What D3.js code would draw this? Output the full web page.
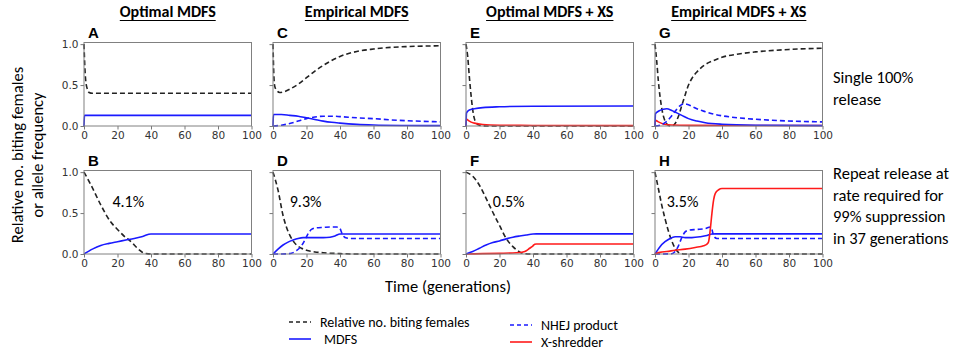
<!DOCTYPE html>
<html>
<head>
<meta charset="utf-8">
<script src="https://cdn.jsdelivr.net/npm/d3@7"></script>
<style>
  body { margin: 0; background: #fff; }
  text { font-family: Carlito, Lato, sans-serif; fill: #000; }
  .tick text { font-family: "DejaVu Sans", sans-serif; fill: #333; }
</style>
</head>
<body>
<div id="chart"></div>
<script>
// column titles and row descriptions
var columnTitles = ["Optimal MDFS", "Empirical MDFS", "Optimal MDFS + XS", "Empirical MDFS + XS"];
var panelLetters = [["A", "C", "E", "G"], ["B", "D", "F", "H"]];
var releaseRates = ["4.1%", "9.3%", "0.5%", "3.5%"];
var xTicks = [0, 20, 40, 60, 80, 100];
var yTicks = [0, 0.5, 1.0];

// every series is [generation, value]
// --- single 100% release ---
var femalesA = [[0,1],[0.5,0.72],[1,0.56],[2,0.45],[3,0.41],[5,0.40],[100,0.40]];
var mdfsA = [[0,0],[0.3,0.13],[100,0.13]];

var femalesC = [[0,1],[0.5,0.62],[1,0.49],[2,0.44],[4,0.41],[7,0.42],[10,0.45],[15,0.51],[20,0.59],[25,0.67],[30,0.74],[35,0.8],[40,0.85],[50,0.91],[60,0.94],[70,0.96],[80,0.97],[100,0.98]];
var mdfsC = [[0,0],[0.3,0.14],[5,0.14],[10,0.13],[15,0.12],[20,0.1],[25,0.08],[30,0.06],[35,0.045],[40,0.035],[50,0.02],[60,0.012],[80,0.006],[100,0.004]];
var nhejC = [[0,0],[5,0.01],[10,0.03],[15,0.06],[20,0.09],[25,0.11],[30,0.12],[35,0.12],[40,0.115],[50,0.1],[60,0.09],[70,0.075],[80,0.065],[100,0.05]];

var femalesE = [[0,1],[1,0.85],[2,0.6],[3,0.38],[4,0.2],[5,0.09],[6,0.04],[8,0.01],[12,0],[100,0]];
var mdfsE = [[0,0],[0.3,0.16],[1,0.18],[2,0.195],[5,0.21],[10,0.225],[20,0.235],[40,0.242],[100,0.245]];
var xsE = [[0,0],[0.3,0.085],[1,0.075],[2,0.06],[5,0.035],[10,0.018],[20,0.01],[40,0.007],[100,0.005]];

var femalesG = [[0,1],[1,0.8],[2,0.55],[4,0.22],[6,0.06],[8,0.01],[10,0],[12,0.03],[14,0.12],[16,0.25],[18,0.38],[20,0.5],[22,0.58],[25,0.66],[30,0.75],[35,0.8],[40,0.84],[50,0.88],[60,0.905],[80,0.935],[100,0.95]];
var mdfsG = [[0,0],[0.3,0.15],[2,0.18],[5,0.205],[7,0.21],[10,0.19],[13,0.16],[16,0.13],[20,0.09],[25,0.06],[30,0.04],[40,0.022],[60,0.01],[100,0.005]];
var nhejG = [[0,0],[3,0.01],[6,0.04],[9,0.1],[12,0.18],[15,0.25],[17,0.27],[19,0.265],[22,0.24],[25,0.21],[30,0.175],[35,0.145],[40,0.125],[55,0.09],[70,0.07],[100,0.05]];
var xsG = [[0,0],[0.3,0.07],[2,0.05],[5,0.025],[10,0.012],[20,0.008],[100,0.006]];

// --- repeat release ---
var femalesB = [[0,1],[4,0.85],[10,0.6],[16,0.39],[20,0.3],[25,0.2],[27,0.17],[30,0.11],[33,0.05],[36,0.01],[40,0],[100,0]];
var mdfsB = [[0,0],[5,0.06],[10,0.105],[15,0.13],[20,0.15],[25,0.17],[30,0.19],[35,0.215],[40,0.245],[100,0.245]];

var femalesD = [[0,1],[3,0.78],[6,0.47],[8,0.33],[10,0.23],[12,0.16],[14,0.11],[17,0.07],[20,0.045],[25,0.025],[30,0.015],[40,0.005],[50,0],[100,0]];
var mdfsD = [[0,0],[3,0.06],[6,0.11],[9,0.145],[12,0.17],[15,0.19],[18,0.2],[24,0.2],[30,0.2],[34,0.205],[37,0.22],[40,0.245],[42,0.245],[100,0.245]];
var nhejD = [[0,0],[8,0.002],[11,0.01],[14,0.04],[17,0.1],[19,0.17],[21,0.25],[23,0.3],[26,0.32],[30,0.325],[35,0.33],[38,0.33],[40,0.31],[41,0.26],[42,0.22],[44,0.195],[47,0.19],[100,0.19]];

var femalesF = [[0,1],[4,0.95],[8,0.84],[12,0.68],[16,0.51],[20,0.35],[24,0.19],[28,0.09],[32,0.025],[35,0.005],[38,0],[100,0]];
var mdfsF = [[0,0],[4,0.03],[8,0.07],[12,0.11],[16,0.14],[20,0.16],[24,0.185],[28,0.205],[32,0.22],[36,0.233],[40,0.244],[42,0.246],[100,0.246]];
var xsF = [[0,0],[10,0.004],[20,0.008],[30,0.015],[34,0.025],[36,0.04],[38,0.07],[40,0.1],[41,0.12],[42,0.123],[100,0.123]];

var femalesH = [[0,1],[2,0.8],[4,0.6],[6,0.43],[8,0.28],[10,0.16],[12,0.07],[14,0.02],[16,0.003],[18,0],[100,0]];
var mdfsH = [[0,0],[3,0.09],[6,0.15],[9,0.19],[12,0.21],[15,0.21],[18,0.2],[22,0.2],[27,0.21],[31,0.225],[34,0.245],[36,0.246],[100,0.246]];
var nhejH = [[0,0],[10,0.003],[12,0.03],[14,0.1],[16,0.2],[18,0.27],[20,0.29],[25,0.3],[30,0.31],[33,0.33],[34,0.3],[35,0.22],[37,0.19],[100,0.19]];
var xsH = [[0,0],[3,0.02],[7,0.03],[12,0.045],[18,0.06],[24,0.08],[29,0.1],[31,0.12],[32,0.15],[33,0.3],[34,0.5],[35,0.66],[36,0.74],[38,0.785],[40,0.8],[100,0.8]];

var legendNames = ["Relative no. biting females", "MDFS", "NHEJ product", "X-shredder"];

// line styles for the four kinds of series
var styles = {
  females: {color: "#222", dash: "5,3"},
  mdfs:    {color: "#1a1aff", dash: null},
  nhej:    {color: "#1a1aff", dash: "5,3"},
  xs:      {color: "#ff1a1a", dash: null}
};

var panels = [
  [ {females: femalesA, mdfs: mdfsA},
    {females: femalesC, nhej: nhejC, mdfs: mdfsC},
    {females: femalesE, xs: xsE, mdfs: mdfsE},
    {females: femalesG, xs: xsG, nhej: nhejG, mdfs: mdfsG} ],
  [ {females: femalesB, mdfs: mdfsB},
    {females: femalesD, nhej: nhejD, mdfs: mdfsD},
    {females: femalesF, xs: xsF, mdfs: mdfsF},
    {females: femalesH, nhej: nhejH, mdfs: mdfsH, xs: xsH} ]
];

var W = 967, H = 349;
var colLeft = [84, 273, 466, 655], panelW = 167.5;
var rowTop = [42.5, 170.5], panelH = 83.5;
var rateLabelT = [17, 10, 16, 7];

var svg = d3.select("#chart").append("svg")
  .attr("width", W).attr("height", H);

var line = function(x, y) {
  return d3.line()
    .x(function(d) { return x(d[0]); })
    .y(function(d) { return y(d[1]); })
    .curve(d3.curveMonotoneX);
};

function drawPanel(row, col) {
  var left = colLeft[col], top = rowTop[row];
  var x = d3.scaleLinear().domain([0, 100]).range([left, left + panelW]);
  var y = d3.scaleLinear().domain([0, 1.02]).range([top + panelH, top]);
  var g = svg.append("g");

  // series
  var series = panels[row][col];
  Object.keys(series).forEach(function(k) {
    g.append("path")
      .datum(series[k])
      .attr("d", line(x, y))
      .attr("fill", "none")
      .attr("stroke", styles[k].color)
      .attr("stroke-width", 1.6)
      .attr("stroke-dasharray", styles[k].dash);
  });

  // axes
  var xAxis = g.append("g")
    .attr("transform", "translate(0," + (top + panelH) + ")")
    .call(d3.axisBottom(x).tickValues(xTicks).tickSize(3.5).tickPadding(2));
  var yAxis = g.append("g")
    .attr("transform", "translate(" + left + ",0)")
    .call(d3.axisLeft(y).tickValues(yTicks).tickSize(3.5).tickPadding(2)
      .tickFormat(col == 0 ? d3.format(".1f") : ""));
  [xAxis, yAxis].forEach(function(a) {
    a.select(".domain").remove();
    a.selectAll("line").attr("stroke", "#555").attr("stroke-width", 0.8);
    a.selectAll("text").style("font-size", "10.5px");
  });

  // frame
  g.append("rect")
    .attr("x", left).attr("y", top)
    .attr("width", panelW).attr("height", panelH)
    .attr("fill", "none").attr("stroke", "#808080").attr("stroke-width", 1);

  // panel letter
  g.append("text")
    .attr("x", left + 4).attr("y", top - 5)
    .style("font-family", "'Liberation Sans', Arial, sans-serif")
    .style("font-weight", "bold").style("font-size", "15px")
    .text(panelLetters[row][col]);

  if (row == 1) {
    g.append("text")
      .attr("x", x(rateLabelT[col])).attr("y", y(0.64))
      .attr("dominant-baseline", "central")
      .style("font-size", "16px")
      .text(releaseRates[col]);
  }
}

for (var r = 0; r < 2; r++)
  for (var c = 0; c < 4; c++) drawPanel(r, c);

// column titles, underlined
columnTitles.forEach(function(t, i) {
  var cx = colLeft[i] + panelW / 2;
  var txt = svg.append("text")
    .attr("x", cx).attr("y", 17)
    .attr("text-anchor", "middle")
    .style("font-weight", "bold").style("font-size", "16px")
    .text(t);
  var w = txt.node().getComputedTextLength();
  svg.append("line")
    .attr("x1", cx - w / 2).attr("x2", cx + w / 2)
    .attr("y1", 20.5).attr("y2", 20.5)
    .attr("stroke", "#000").attr("stroke-width", 1.2);
});

// y label
svg.append("text")
  .attr("transform", "translate(17,155) rotate(-90)")
  .attr("text-anchor", "middle").attr("dominant-baseline", "central")
  .style("font-size", "16.5px")
  .text("Relative no. biting females");
svg.append("text")
  .attr("transform", "translate(37,155) rotate(-90)")
  .attr("text-anchor", "middle").attr("dominant-baseline", "central")
  .style("font-size", "16.5px")
  .text("or allele frequency");

// x label
svg.append("text")
  .attr("x", 448).attr("y", 292)
  .attr("text-anchor", "middle")
  .style("font-size", "16.5px")
  .text("Time (generations)");

// row descriptions on the right
var rowNotes = [["Single 100%", "release"],
                ["Repeat release at", "rate required for", "99% suppression", "in 37 generations"]];
var noteTop = [83, 179];
rowNotes.forEach(function(lines, i) {
  lines.forEach(function(s, j) {
    svg.append("text")
      .attr("x", 833).attr("y", noteTop[i] + j * 21.5)
      .style("font-size", "16.5px")
      .text(s);
  });
});

// legend
var legendItems = [
  {name: legendNames[0], key: "females", x: 289, y: 322},
  {name: legendNames[1], key: "mdfs", x: 289, y: 339},
  {name: legendNames[2], key: "nhej", x: 510, y: 325},
  {name: legendNames[3], key: "xs", x: 510, y: 342}
];
var lg = svg.append("g");
legendItems.forEach(function(d) {
  lg.append("line")
    .attr("x1", d.x).attr("x2", d.x + 22)
    .attr("y1", d.y).attr("y2", d.y)
    .attr("stroke", styles[d.key].color)
    .attr("stroke-width", 1.6)
    .attr("stroke-dasharray", styles[d.key].dash ? "4,3" : null);
  lg.append("text")
    .attr("x", d.x + (d.key == "mdfs" ? 35 : 31)).attr("y", d.y)
    .attr("dominant-baseline", "central")
    .style("font-size", "14px")
    .text(d.name);
});
</script>
</body>
</html>
